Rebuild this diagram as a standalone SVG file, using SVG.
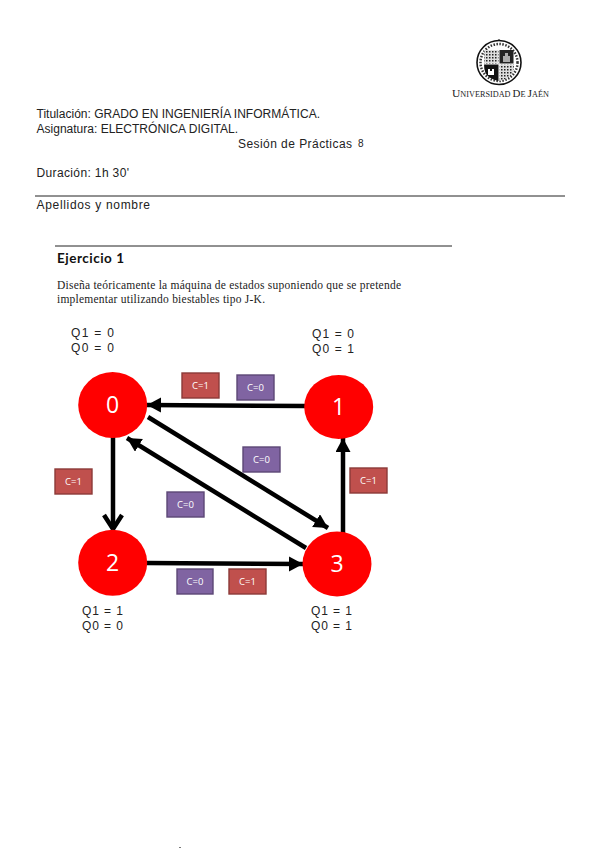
<svg xmlns="http://www.w3.org/2000/svg" width="599" height="848" viewBox="0 0 599 848">
<style>
.t{font-family:"Liberation Sans",Arial,sans-serif;font-size:12px;fill:#222}
.q{font-family:"Liberation Sans",Arial,sans-serif;font-size:12px;fill:#222}
.s{font-family:"Liberation Serif","Times New Roman",serif;font-size:11.5px;fill:#222}
.n{fill:#f00}
.nt{font-family:"Open Sans",sans-serif;font-size:23px;fill:#fff;text-anchor:middle}
.lt{font-family:"Open Sans",sans-serif;font-size:9.5px;fill:#fff;text-anchor:middle}
.r{fill:#c0504d;stroke:#8c3a38;stroke-width:1.4}
.p{fill:#8064a2;stroke:#5c4776;stroke-width:1.4}
.c{stroke:#000;stroke-width:4.5;fill:none}
.rule{stroke:#222;stroke-width:1}
</style>
<defs>
<marker id="a" markerUnits="userSpaceOnUse" markerWidth="18" markerHeight="18" refX="14" refY="7.500" orient="auto"><path d="M0 0L14 7.500L0 15z" fill="#000"/></marker>
<marker id="v" markerUnits="userSpaceOnUse" markerWidth="20" markerHeight="24" refX="16" refY="11" orient="auto"><path d="M2 2L16 11L2 20" fill="none" stroke="#000" stroke-width="4.500"/></marker>
<pattern id="ck" width="3" height="3" patternUnits="userSpaceOnUse"><rect width="3" height="3" fill="#ddd"/><rect width="1.500" height="1.500" fill="#222"/></pattern>
</defs>
<rect width="599" height="848" fill="#fff"/>
<g id="logo">
<path d="M499 39.500V48M495.500 43H502.500" stroke="#111" stroke-width="1.800" fill="none"/>
<circle cx="499" cy="62.500" r="22" fill="#fff" stroke="#111" stroke-width="1.600"/>
<circle cx="499" cy="62.500" r="18.500" fill="none" stroke="#333" stroke-width="2.500" stroke-dasharray="1.500 1.500"/>
<rect x="484" y="50" width="14.500" height="13.500" fill="url(#ck)"/>
<rect x="499.500" y="50" width="14" height="13.500" fill="#222"/>
<path d="M503 62V56H505V53H508V56H510V62z" fill="#aaa"/>
<path d="M484 64.500H498.500V81Q489 79 485.500 73Q484 70 484 64.500z" fill="#111"/>
<path d="M488 75V69H490V71H492V69H494V75z" fill="#fff"/>
<path d="M499.500 64.500H514Q514 70 512.500 73Q509 79 499.500 81z" fill="url(#ck)"/>
<text x="452" y="97" font-family="Liberation Serif,serif" font-size="7.500" fill="#222" textLength="97" lengthAdjust="spacingAndGlyphs"><tspan font-size="10.500">U</tspan>NIVERSIDAD <tspan font-size="10">D</tspan>E <tspan font-size="10.500">J</tspan>AÉN</text>
</g>
<g id="header">
<text class="t" x="36.500" y="118" textLength="283.500" lengthAdjust="spacingAndGlyphs">Titulación: GRADO EN INGENIERÍA INFORMÁTICA.</text>
<text class="t" x="36.500" y="133" textLength="201.500" lengthAdjust="spacingAndGlyphs">Asignatura: ELECTRÓNICA DIGITAL.</text>
<text class="t" x="238" y="148" textLength="114">Sesión de Prácticas</text>
<text class="t" x="358" y="147" style="font-size:10px">8</text>
<text class="t" x="36.500" y="177" textLength="92.500">Duración: 1h 30'</text>
<line class="rule" x1="35" y1="196" x2="565" y2="196"/>
<text class="t" x="36.500" y="209" textLength="113.500">Apellidos y nombre</text>
</g>
<g id="exercise">
<line class="rule" x1="55" y1="246" x2="452" y2="246"/>
<text x="57" y="263" font-family="Lato,sans-serif" font-weight="700" font-size="13.500" fill="#111" textLength="67">Ejercicio 1</text>
<text class="s" x="57" y="289" textLength="344">Diseña teóricamente la máquina de estados suponiendo que se pretende</text>
<text class="s" x="57" y="303" textLength="208">implementar utilizando biestables tipo J-K.</text>
</g>
<g id="connectors">
<line class="c" x1="305" y1="406" x2="147" y2="405" marker-end="url(#a)"/>
<line class="c" x1="113" y1="437" x2="113" y2="529" marker-end="url(#v)"/>
<line class="c" x1="148" y1="417" x2="328" y2="528" marker-end="url(#a)"/>
<line class="c" x1="306" y1="548" x2="127" y2="438" marker-end="url(#a)"/>
<line class="c" x1="343" y1="533" x2="343" y2="438" marker-end="url(#a)"/>
<line class="c" x1="147" y1="563" x2="303" y2="564" marker-end="url(#a)"/>
</g>
<g id="node0"><ellipse class="n" cx="112.700" cy="405" rx="34.500" ry="33"/><text class="nt" x="112.700" y="413">0</text></g>
<g id="node1"><ellipse class="n" cx="338.700" cy="407" rx="34.500" ry="32"/><text class="nt" x="338.700" y="415">1</text></g>
<g id="node2"><ellipse class="n" cx="112.700" cy="562.700" rx="34.500" ry="33"/><text class="nt" x="112.700" y="571">2</text></g>
<g id="node3"><ellipse class="n" cx="337" cy="564" rx="34.500" ry="32.500"/><text class="nt" x="337" y="572">3</text></g>
<g id="labels">
<g><rect class="r" x="182" y="373" width="37" height="25"/><text class="lt" x="200.500" y="389">C=1</text></g>
<g><rect class="p" x="237" y="375" width="37" height="25"/><text class="lt" x="255.500" y="391">C=0</text></g>
<g><rect class="p" x="243" y="447" width="37" height="25"/><text class="lt" x="261.500" y="463">C=0</text></g>
<g><rect class="r" x="55" y="469" width="37" height="25"/><text class="lt" x="73.500" y="485">C=1</text></g>
<g><rect class="r" x="350" y="468" width="37" height="25"/><text class="lt" x="368.500" y="484">C=1</text></g>
<g><rect class="p" x="167" y="492" width="37" height="25"/><text class="lt" x="185.500" y="508">C=0</text></g>
<g><rect class="p" x="177" y="569" width="36" height="25"/><text class="lt" x="195" y="585">C=0</text></g>
<g><rect class="r" x="229" y="569" width="37" height="25"/><text class="lt" x="247.500" y="585">C=1</text></g>
</g>
<g id="state-codes">
<text class="q" x="71" y="337" textLength="43">Q1 = 0</text>
<text class="q" x="71" y="352" textLength="43">Q0 = 0</text>
<text class="q" x="312" y="338" textLength="42">Q1 = 0</text>
<text class="q" x="312" y="353" textLength="42">Q0 = 1</text>
<text class="q" x="82" y="615" textLength="41">Q1 = 1</text>
<text class="q" x="82" y="630" textLength="41">Q0 = 0</text>
<text class="q" x="311" y="615" textLength="41">Q1 = 1</text>
<text class="q" x="311" y="630" textLength="41">Q0 = 1</text>
</g>
<rect x="179" y="847" width="2" height="1" fill="#777"/>
</svg>
